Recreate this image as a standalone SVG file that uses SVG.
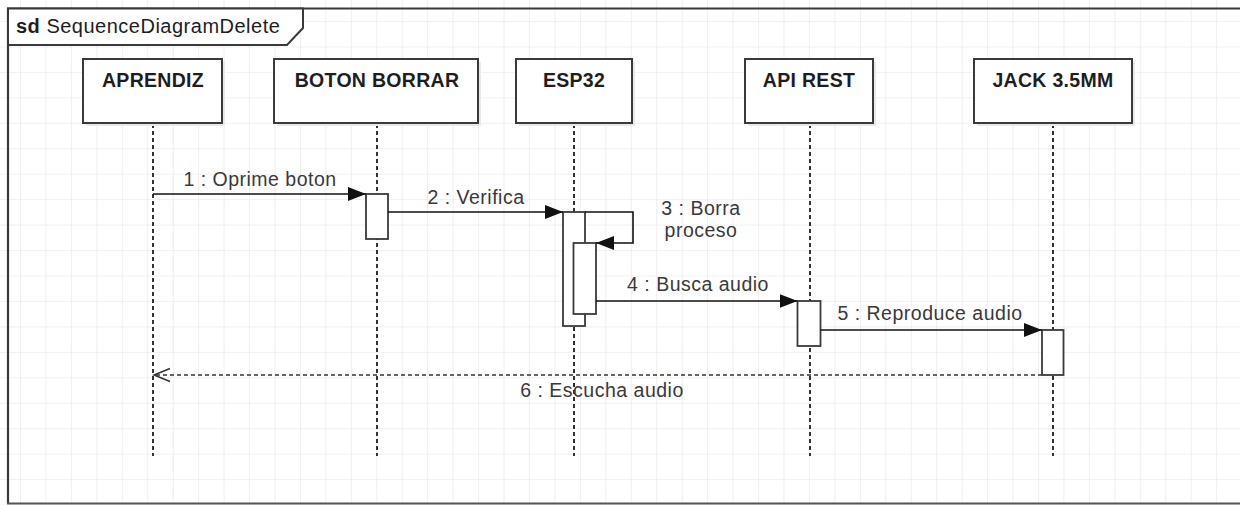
<svg xmlns="http://www.w3.org/2000/svg" width="1240" height="505" viewBox="0 0 1240 505">
  <defs>
    <pattern id="grid" patternUnits="userSpaceOnUse" x="20" y="21" width="25.45" height="25.45">
      <path d="M0,0 H25.45 M0,0 V25.45" fill="none" stroke="#ebebeb" stroke-width="1.6"/>
    </pattern>
    <marker id="filled" markerUnits="userSpaceOnUse" viewBox="0 0 18 14" refX="18" refY="7" markerWidth="18" markerHeight="14" orient="auto">
      <path d="M0,0 L18,7 L0,14 Z" fill="#111"/>
    </marker>
    <marker id="open" markerUnits="userSpaceOnUse" viewBox="0 0 20 16" refX="18" refY="8" markerWidth="20" markerHeight="16" orient="auto">
      <path d="M2,1.5 L18,8 L2,14.5" fill="none" stroke="#333" stroke-width="1.5"/>
    </marker>
  </defs>
  <style>
    .box { fill: #ffffff; stroke: #3a3a3a; stroke-width: 2; }
    .shadow { fill: #e9e9e9; }
    .act { fill: #ffffff; stroke: #3a3a3a; stroke-width: 1.8; }
    .life { stroke: #333; stroke-width: 2; stroke-dasharray: 4 3; fill: none; }
    .msg { stroke: #111; stroke-width: 1.6; fill: none; }
    .ret { stroke: #333; stroke-width: 1.6; fill: none; stroke-dasharray: 4 3; }
    .title { font-family: "Liberation Sans", Arial, sans-serif; font-weight: bold; font-size: 19.5px; fill: #1e1e1e; text-anchor: middle; letter-spacing: 0.3px; }
    .lbl { font-family: "Liberation Sans", Arial, sans-serif; font-size: 19.5px; fill: #3a3a3a; text-anchor: middle; letter-spacing: 0.5px; }
    .sd { font-family: "Liberation Sans", Arial, sans-serif; font-size: 20px; fill: #1e1e1e; letter-spacing: 0.5px; }
  </style>

  <rect x="0" y="0" width="1240" height="505" fill="#ffffff"/>
  <rect x="0" y="0" width="1240" height="505" fill="url(#grid)"/>

  <g id="frame">
    <path d="M8,504 V8.5 H1242" fill="none" stroke="#3a3a3a" stroke-width="2.2"/>
    <path d="M7,503.5 H1242" fill="none" stroke="#555" stroke-width="2"/>
    <path d="M8,8.5 H303 V28 L287,45 H8 Z" fill="#ffffff" stroke="#3a3a3a" stroke-width="2"/>
    <text class="sd" x="16" y="33"><tspan font-weight="bold">sd</tspan> SequenceDiagramDelete</text>
  </g>

  <g id="lifelines">
    <line class="life" x1="153" y1="124" x2="153" y2="456"/>
    <line class="life" x1="377" y1="124" x2="377" y2="456"/>
    <line class="life" x1="574" y1="124" x2="574" y2="456"/>
    <line class="life" x1="810" y1="124" x2="810" y2="456"/>
    <line class="life" x1="1053" y1="124" x2="1053" y2="456"/>
  </g>

  <g id="aprendiz">
    <rect class="shadow" x="86" y="62" width="139" height="64"/>
    <rect class="box" x="83" y="59" width="139" height="64"/>
    <text class="title" x="153" y="87">APRENDIZ</text>
  </g>
  <g id="boton_borrar">
    <rect class="shadow" x="277" y="62" width="204" height="64"/>
    <rect class="box" x="274" y="59" width="204" height="64"/>
    <text class="title" x="377" y="87">BOTON BORRAR</text>
    <rect class="act" x="366" y="194" width="22" height="45"/>
  </g>
  <g id="esp32">
    <rect class="shadow" x="519" y="62" width="116" height="64"/>
    <rect class="box" x="516" y="59" width="116" height="64"/>
    <text class="title" x="574" y="87">ESP32</text>
    <rect class="act" x="563" y="212" width="22" height="114"/>
    <rect class="act" x="573.5" y="243" width="22.5" height="71"/>
  </g>
  <g id="api_rest">
    <rect class="shadow" x="748" y="62" width="128" height="64"/>
    <rect class="box" x="745" y="59" width="128" height="64"/>
    <text class="title" x="809" y="87">API REST</text>
    <rect class="act" x="797.5" y="301" width="23" height="45"/>
  </g>
  <g id="jack">
    <rect class="shadow" x="977" y="62" width="158" height="64"/>
    <rect class="box" x="974" y="59" width="158" height="64"/>
    <text class="title" x="1053" y="87">JACK 3.5MM</text>
    <rect class="act" x="1042" y="330" width="21.5" height="45"/>
  </g>

  <g id="connectors">
    <line class="msg" x1="153" y1="194" x2="366" y2="194" marker-end="url(#filled)"/>
    <text class="lbl" x="260" y="186">1 : Oprime boton</text>

    <line class="msg" x1="388" y1="212" x2="563" y2="212" marker-end="url(#filled)"/>
    <text class="lbl" x="476" y="204">2 : Verifica</text>

    <path class="msg" d="M585,212 H633 V243 H596" marker-end="url(#filled)"/>
    <text class="lbl" x="701" y="215">3 : Borra</text>
    <text class="lbl" x="701" y="237">proceso</text>

    <line class="msg" x1="596" y1="301" x2="797.5" y2="301" marker-end="url(#filled)"/>
    <text class="lbl" x="698" y="291">4 : Busca audio</text>

    <line class="msg" x1="820.5" y1="330" x2="1042" y2="330" marker-end="url(#filled)"/>
    <text class="lbl" x="930" y="320">5 : Reproduce audio</text>

    <line class="ret" x1="1042" y1="375" x2="154" y2="375" marker-end="url(#open)"/>
    <text class="lbl" x="602" y="397">6 : Escucha audio</text>
  </g>
</svg>
